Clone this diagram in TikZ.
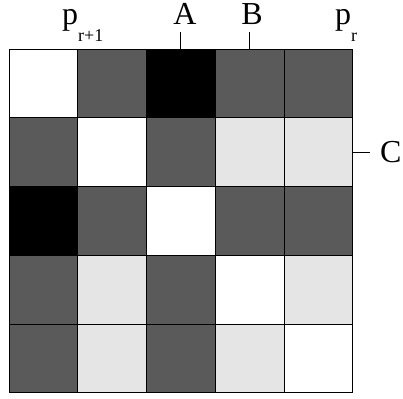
\documentclass[tikz,border=0pt]{standalone}
\usepackage{fontspec}
\setmainfont{Liberation Serif}
\usetikzlibrary{positioning}
\definecolor{dgray}{RGB}{90,90,90}
\definecolor{lgray}{RGB}{229,229,229}

\begin{document}
\begin{tikzpicture}[x=1pt,y=-1pt,
  cell/.style={rectangle,draw=black,line width=0.9pt,minimum size=68.75pt,
    inner sep=0pt,outer sep=0pt},
  lbl/.style={inner sep=0pt,font=\fontsize{32}{34}\selectfont},
  tick/.style={line width=0.9pt}
]
  \useasboundingbox (0,0) rectangle (403,398);
  % 5x5 block matrix
  \foreach \row [count=\r] in {{white,dgray,black,dgray,dgray},
                               {dgray,white,dgray,lgray,lgray},
                               {black,dgray,white,dgray,dgray},
                               {dgray,lgray,dgray,white,lgray},
                               {dgray,lgray,dgray,lgray,white}}
    \foreach \f [count=\c] in \row
      \node[cell,fill=\f] (c\r\c) at ({9+68.75*(\c-0.5)},{49+68.75*(\r-0.5)}) {};
  % column and row markers
  \coordinate (tA) at ([yshift=17pt]c13.north);
  \coordinate (tB) at ([yshift=17pt]c14.north);
  \coordinate (tC) at ([xshift=17pt]c25.east);
  \draw[tick] (c13.north) -- (tA);
  \draw[tick] (c14.north) -- (tB);
  \draw[tick] (c25.east) -- (tC);
  \node[lbl,anchor=base] (A) at (185,25) {A};
  \node[lbl,anchor=base] (B) at (252,25) {B};
  \node[lbl,anchor=base west] (C) at (380,162) {C};
  \node[lbl,anchor=base west] (p1) at (62,25)
    {p\raisebox{-17pt}{\fontsize{18}{20}\selectfont r+1}};
  \node[lbl,anchor=base west] (p0) at (335,25)
    {p\raisebox{-17pt}{\fontsize{18}{20}\selectfont r}};
\end{tikzpicture}
\end{document}
